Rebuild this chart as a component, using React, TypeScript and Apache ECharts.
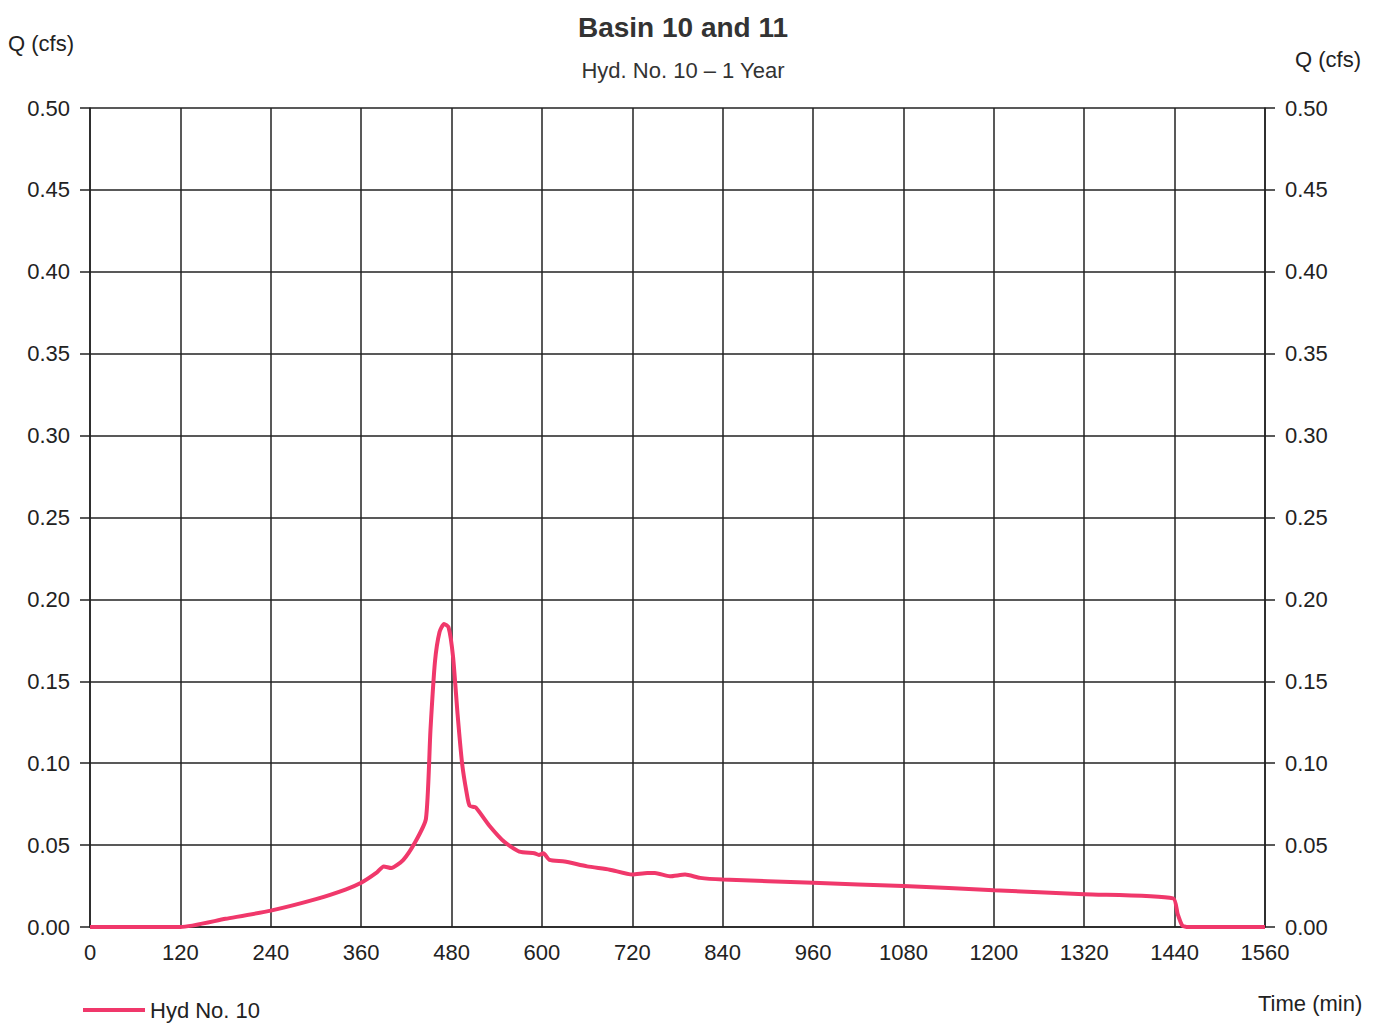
import React, { useEffect, useRef } from "react";
import * as echarts from "echarts";

const times = [0, 60, 120, 180, 240, 300, 340, 360, 380, 390, 400, 416, 432, 446, 452, 458, 464, 470, 476, 482, 488, 494, 500, 504, 512, 530, 550, 570, 590, 596, 602, 610, 630, 660, 690, 720, 740, 750, 770, 790, 810, 840, 960, 1080, 1200, 1320, 1438, 1444, 1450, 1456, 1560];
const flows = [0.0, 0.0, 0.0, 0.005, 0.010, 0.017, 0.023, 0.027, 0.033, 0.037, 0.036, 0.041, 0.052, 0.066, 0.12, 0.162, 0.180, 0.185, 0.183, 0.165, 0.13, 0.10, 0.082, 0.074, 0.073, 0.062, 0.052, 0.046, 0.045, 0.044, 0.045, 0.041, 0.040, 0.037, 0.035, 0.032, 0.033, 0.033, 0.031, 0.032, 0.030, 0.029, 0.027, 0.025, 0.0225, 0.020, 0.0175, 0.008, 0.001, 0.0, 0.0];

const xTicks = [0, 120, 240, 360, 480, 600, 720, 840, 960, 1080, 1200, 1320, 1440, 1560];
const yTicks = [0, 0.05, 0.1, 0.15, 0.2, 0.25, 0.3, 0.35, 0.4, 0.45, 0.5];

const titleText = "Basin 10 and 11";
const subTitleText = "Hyd. No. 10 \u2013 1 Year";
const seriesName = "Hyd No. 10";

export default function App() {
  const ref = useRef<HTMLDivElement>(null);
  useEffect(() => {
    if (!ref.current) return;
    const chart = echarts.init(ref.current, null, { renderer: "svg" });
    const font = "Liberation Sans, Arial, sans-serif";
    const data = times.map((t, i) => [t, flows[i]]);
    const yAxisBase = (side: "left" | "right") => ({
      type: "value",
      position: side,
      min: 0,
      max: yTicks[yTicks.length - 1],
      interval: 0.05,
      axisLine: { show: true, lineStyle: { color: "#222", width: 1.5 } },
      axisTick: { show: true, length: 10, lineStyle: { color: "#222", width: 1.5 } },
      splitLine: { show: side === "left", lineStyle: { color: "#222", width: 1.5 } },
      axisLabel: {
        margin: 20,
        color: "#222",
        fontSize: 22,
        fontFamily: font,
        formatter: (v: number) => v.toFixed(2),
      },
    });
    chart.setOption({
      animation: false,
      backgroundColor: "#ffffff",
      title: [
        {
          text: titleText,
          left: 678,
          top: 8,
          textAlign: "center",
          textStyle: { fontFamily: font, fontSize: 28, fontWeight: "bold", color: "#333" },
        },
        {
          text: subTitleText,
          left: 678,
          top: 54,
          textAlign: "center",
          textStyle: { fontFamily: font, fontSize: 22, fontWeight: "normal", color: "#333" },
        },
      ],
      legend: {
        left: 78,
        top: 994,
        itemWidth: 62,
        itemHeight: 4,
        icon: "rect",
        itemGap: 10,
        textStyle: { fontFamily: font, fontSize: 22, color: "#222" },
        data: [seriesName],
      },
      grid: { left: 90, right: 129, top: 108, bottom: 99 },
      xAxis: {
        type: "value",
        min: 0,
        max: xTicks[xTicks.length - 1],
        interval: 120,
        axisLine: { show: true, onZero: false, lineStyle: { color: "#222", width: 1.5 } },
        axisTick: { show: false },
        splitLine: { show: true, lineStyle: { color: "#222", width: 1.5 } },
        axisLabel: { margin: 14, color: "#222", fontSize: 22, fontFamily: font, formatter: (v: number) => String(v) },
      },
      yAxis: [yAxisBase("left"), yAxisBase("right")],
      graphic: [
        { type: "text", left: 8, top: 32, style: { text: "Q (cfs)", font: `22px ${font}`, fill: "#222" } },
        { type: "text", left: 1295, top: 48, style: { text: "Q (cfs)", font: `22px ${font}`, fill: "#222" } },
        { type: "text", left: 1258, top: 992, style: { text: "Time (min)", font: `22px ${font}`, fill: "#222" } },
      ],
      series: [
        {
          name: seriesName,
          type: "line",
          data,
          showSymbol: false,
          smooth: 0.2,
          lineStyle: { color: "#f0386b", width: 4 },
          itemStyle: { color: "#f0386b" },
        },
      ],
    });
    return () => chart.dispose();
  }, []);
  return <div ref={ref} style={{ width: 1394, height: 1026, position: "absolute", left: 0, top: 0 }} />;
}
